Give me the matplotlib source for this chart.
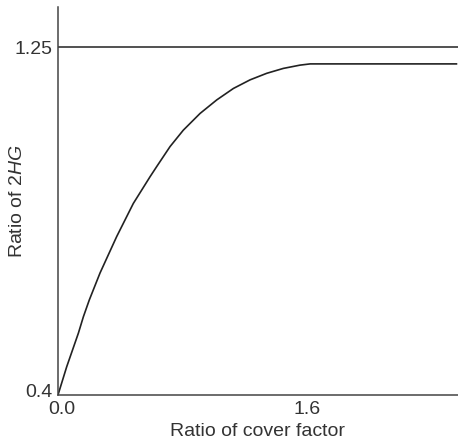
import matplotlib
matplotlib.use("Agg")
import matplotlib.pyplot as plt
from matplotlib.transforms import ScaledTranslation

plt.rcParams['font.family'] = ['Liberation Sans', 'DejaVu Sans']
plt.rcParams['mathtext.fontset'] = 'custom'
plt.rcParams['mathtext.rm'] = 'Liberation Sans'
plt.rcParams['mathtext.it'] = 'Liberation Sans:italic'

# curve
cover_ratio = [0.0, 0.056, 0.131, 0.163, 0.201, 0.270, 0.377, 0.484, 0.591,
               0.634, 0.720, 0.805, 0.913, 1.020, 1.127, 1.234, 1.341,
               1.448, 1.555, 1.620, 2.56]
hg_ratio = [0.4, 0.469, 0.551, 0.591, 0.632, 0.698, 0.787, 0.868, 0.933,
            0.958, 1.007, 1.047, 1.088, 1.121, 1.149, 1.170, 1.186,
            1.198, 1.206, 1.209, 1.209]
upper_limit = 1.25
x_ticks = [0.0, 1.6]
x_labels = ['0.0', '1.6']
y_ticks = [0.4, 1.25]
y_labels = ['0.4', '1.25']

line_col = '#222222'
text_col = '#333333'

fig = plt.figure(figsize=(4.58, 4.44), dpi=100)
ax = fig.add_axes([0.1266, 0.1104, 0.8734, 0.8738])

ax.plot(cover_ratio, hg_ratio, color=line_col, lw=1.2,
        solid_joinstyle='round')
ax.axhline(upper_limit, color=line_col, lw=1.1)

ax.set_xlim(0, 2.57)
ax.set_ylim(0.4, 1.348)

for s in ['top', 'right']:
    ax.spines[s].set_visible(False)
for s in ['left', 'bottom']:
    ax.spines[s].set_color('#444444')
    ax.spines[s].set_linewidth(1.1)

ax.set_xticks(x_ticks)
ax.set_xticklabels(x_labels)
ax.set_yticks(y_ticks)
ax.set_yticklabels(y_labels)
ax.tick_params(length=0, labelsize=14, labelcolor=text_col, pad=4)

# nudge the corner labels apart like the original
ax.get_yticklabels()[0].set_transform(
    ax.get_yticklabels()[0].get_transform() + ScaledTranslation(0, 4 / 100, fig.dpi_scale_trans))
ax.get_xticklabels()[0].set_transform(
    ax.get_xticklabels()[0].get_transform() + ScaledTranslation(4 / 100, 0, fig.dpi_scale_trans))

ax.set_xlabel('Ratio of cover factor', fontsize=14, color=text_col)
ax.xaxis.set_label_coords(0.5, -0.072)
ax.set_ylabel('Ratio of 2$\\mathit{HG}$', fontsize=14, color=text_col)
ax.yaxis.set_label_coords(-0.08, 0.5)

fig.savefig('out.png', dpi=100)
